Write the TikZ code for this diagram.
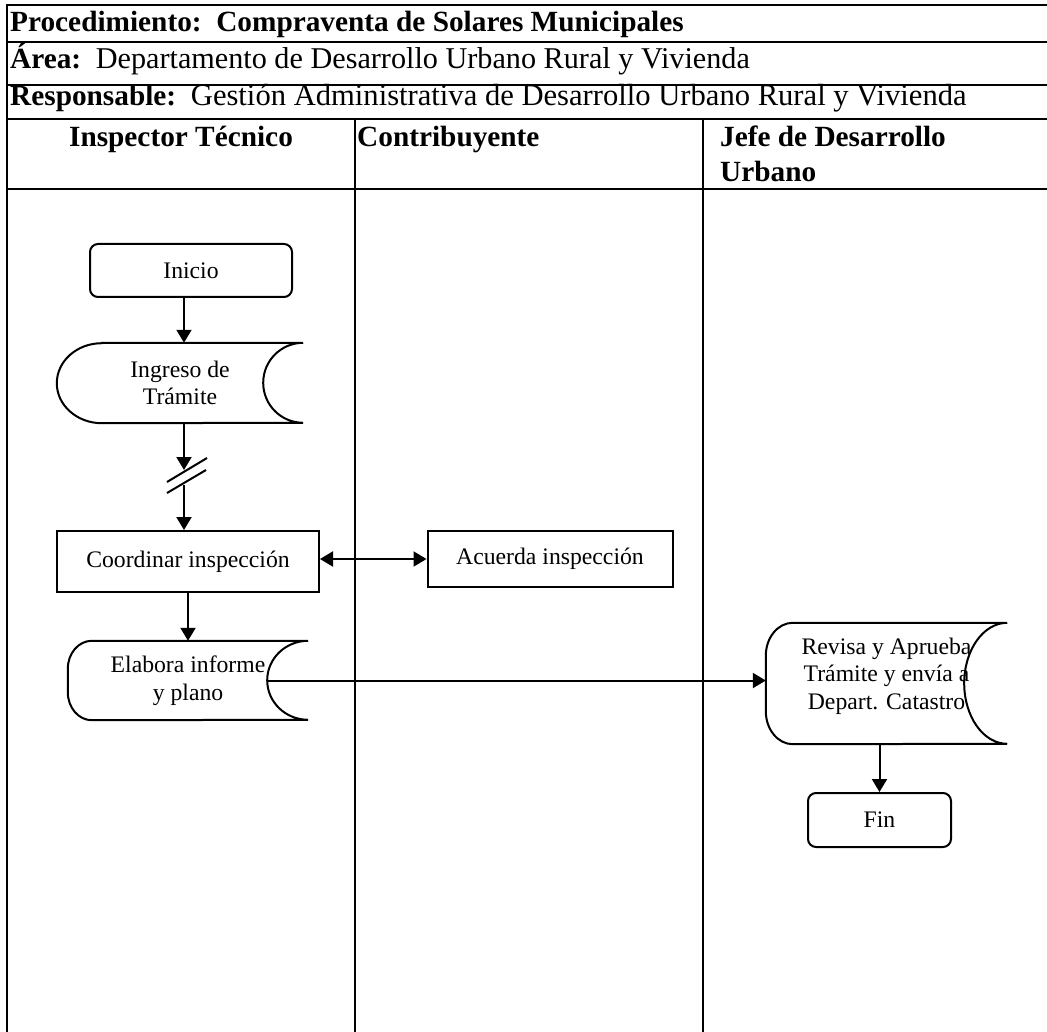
\documentclass[tikz,border=0pt]{standalone}
\usepackage{fontspec}
\setmainfont{Liberation Serif}
\usetikzlibrary{arrows.meta,calc}
\begin{document}
\begin{tikzpicture}[x=1pt,y=1pt,
  hdr/.style={font=\fontsize{29.3}{35}\selectfont, anchor=base west, inner sep=0pt},
  body/.style={font=\fontsize{23.7}{27.5}\selectfont, align=center, inner sep=0pt},
  shp/.style={draw, line width=2pt},
  boxed/.style={body, draw, line width=2pt},
  term/.style={boxed, rounded corners=8pt},
  conn/.style={line width=2pt, -{Triangle[length=13pt,width=15pt]}},
  both/.style={line width=2pt, {Triangle[length=13pt,width=15pt]}-{Triangle[length=13pt,width=15pt]}},
  tline/.style={line width=2pt},
  vline/.style={line width=1.2pt},
]
\useasboundingbox (0,0) rectangle (1047,-1032);

% table
\draw[tline] (6,-5) -- (1047,-5);
\draw[tline] (6,-42) -- (1047,-42);
\draw[tline] (6,-85) -- (1047,-85);
\draw[tline] (6,-119) -- (1047,-119);
\draw[tline] (6,-189) -- (1047,-189);
\draw[vline] (7,-5) -- (7,-1032);
\draw[vline] (355,-119) -- (355,-1032);
\draw[vline] (703,-119) -- (703,-1032);

% header texts
\node[hdr] (proc) at (10,-32) {\textbf{Procedimiento:\ \ Compraventa de Solares Municipales}};
\node[hdr] (area) at (10,-69) {\textbf{Área:}\ \ {\fontsize{30.2}{35}\selectfont Departamento de Desarrollo Urbano Rural y Vivienda}};
\node[hdr] (resp) at (10,-106) {\textbf{Responsable:}\ \ {\fontsize{30.6}{35}\selectfont Gestión Administrativa de Desarrollo Urbano Rural y Vivienda}};
\node[hdr, anchor=base] (insp) at (181,-147) {\textbf{Inspector Técnico}};
\node[hdr] (contr) at (357,-147) {\textbf{Contribuyente}};
\node[hdr] (jefe1) at (720,-147) {\textbf{Jefe de Desarrollo}};
\node[hdr] (jefe2) at (720,-182) {\textbf{Urbano}};

% flow nodes
\node[term, minimum width=202pt, minimum height=53pt] (ini) at (191,-270.5) {Inicio};

\node[body, minimum width=246pt, minimum height=80pt] (ing) at (180,-383) {Ingreso de\\Trámite};
\draw[shp] ([xshift=45pt]ing.north west) -- (ing.north east)
  arc[start angle=90,end angle=270,x radius=40pt,y radius=40pt]
  -- ([xshift=45pt]ing.south west)
  arc[start angle=270,end angle=90,x radius=45pt,y radius=40pt] -- cycle;

\node[boxed, minimum width=262pt, minimum height=61pt] (coo) at (188,-561.5) {Coordinar inspección};
\node[boxed, minimum width=245pt, minimum height=56pt] (acu) at (550,-559) {Acuerda inspección};

\node[body, minimum width=240pt, minimum height=79pt] (ela) at (188,-680.5) {Elabora informe\\y plano};
\draw[shp] ([xshift=24pt]ela.north west) -- (ela.north east)
  arc[start angle=90,end angle=270,x radius=41pt,y radius=39.5pt]
  -- ([xshift=24pt]ela.south west)
  arc[start angle=270,end angle=180,x radius=24pt,y radius=28pt]
  -- ([yshift=-28pt]ela.north west)
  arc[start angle=180,end angle=90,x radius=24pt,y radius=28pt] -- cycle;

\node[body, minimum width=241pt, minimum height=121pt] (rev) at (886.5,-676) {Revisa y Aprueba\\Trámite y envía a\\Depart. Catastro};
\coordinate (rNW) at ([yshift=-7.5pt]rev.north west);
\coordinate (rNE) at ([yshift=-7.5pt]rev.north east);
\coordinate (rSW) at ([yshift=-7.5pt]rev.south west);
\coordinate (rS) at ([yshift=-7.5pt]rev.south);
\draw[shp] ([xshift=27pt]rNW) -- (rNE)
  arc[start angle=90,end angle=270,x radius=43pt,y radius=60.5pt]
  -- ([xshift=27pt]rSW)
  arc[start angle=270,end angle=180,x radius=27pt,y radius=33pt]
  -- ([yshift=-33pt]rNW)
  arc[start angle=180,end angle=90,x radius=27pt,y radius=33pt] -- cycle;

\node[term, minimum width=143pt, minimum height=54pt] (fin) at (879.5,-820) {Fin};

% connectors
\coordinate (cx) at (184,0);
\coordinate (b1) at (184,-470);
\coordinate (b2) at (184,-485);
\draw[conn] (ini.south -| cx) -- (ing.north -| cx);
\draw[conn] (ing.south -| cx) -- (b1);
\draw[line width=2pt] ([shift={(-17pt,-12pt)}]b1) -- ([shift={(23pt,12pt)}]b1);
\draw[line width=2pt] ([shift={(-17pt,-23pt)}]b1) -- ([shift={(22pt,0pt)}]b1);
\draw[conn] (b2) -- (coo.north -| cx);
\draw[both] (coo.east |- acu.west) -- (acu.west);
\draw[conn] (coo.south) -- (ela.north);
\coordinate (elaout) at ([xshift=-41pt]ela.east);
\draw[conn] (elaout) -- (elaout -| rev.west);
\draw[conn] (rS -| fin.north) -- (fin.north);
\end{tikzpicture}
\end{document}
